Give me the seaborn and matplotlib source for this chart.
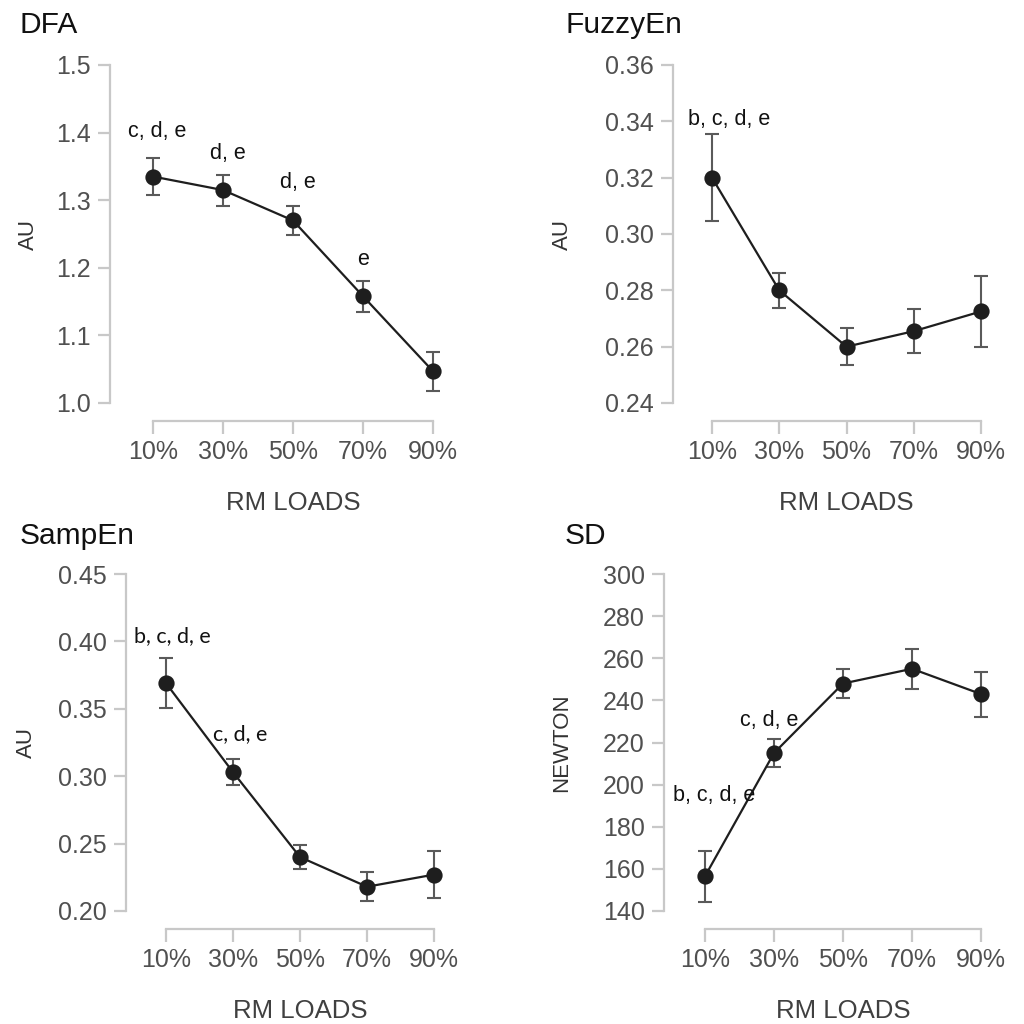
"""
Four-panel line chart of nonlinear / variability measures across RM loads
"""
import numpy as np
import pandas as pd
import matplotlib
matplotlib.use("Agg")
import matplotlib.pyplot as plt
import seaborn as sns

# data
loads = ['10%', '30%', '50%', '70%', '90%']

dfa_mean = [1.335, 1.315, 1.270, 1.158, 1.047]
dfa_se = [0.028, 0.023, 0.021, 0.023, 0.029]

fuzzy_mean = [0.320, 0.280, 0.260, 0.2655, 0.2725]
fuzzy_se = [0.0155, 0.0063, 0.0065, 0.0079, 0.0125]

samp_mean = [0.369, 0.303, 0.240, 0.218, 0.227]
samp_se = [0.0185, 0.0098, 0.0089, 0.0108, 0.0173]

sd_mean = [156.5, 215.0, 248.0, 255.0, 243.0]
sd_se = [12.0, 6.5, 7.0, 9.5, 10.7]

# significance letters: (category position, y, text)
dfa_notes = [(0.06, 1.401, 'c, d, e'), (1.07, 1.369, 'd, e'),
             (2.07, 1.326, 'd, e'), (3.0, 1.213, 'e')]
fuzzy_notes = [(0.25, 0.3407, 'b, c, d, e')]
samp_notes = [(0.09, 0.4043, 'b, c, d, e'), (1.1, 0.3315, 'c, d, e')]
sd_notes = [(0.93, 230.5, 'c, d, e'), (0.13, 195.0, 'b, c, d, e')]

sns.set_style('ticks')
plt.rcParams['font.family'] = ['Liberation Sans', 'DejaVu Sans']

SPINE = '#c8c8c8'
TICKTXT = '#505050'

fig = plt.figure(figsize=(10.24, 10.24), dpi=100)

# panel layout in pixels: spine x, cat0 x, cat4 x, top tick y, bottom tick y, x-axis y
panels = [
    dict(title='DFA', mean=dfa_mean, se=dfa_se, notes=dfa_notes, ylabel='AU',
         yticks=np.round(np.arange(1.0, 1.51, 0.1), 2), fmt='{:.1f}',
         px=(110, 153, 433, 65, 403, 421), title_xy=(20, 33), ylab_x=28, note_font='Liberation Sans'),
    dict(title='FuzzyEn', mean=fuzzy_mean, se=fuzzy_se, notes=fuzzy_notes, ylabel='AU',
         yticks=np.round(np.arange(0.24, 0.361, 0.02), 2), fmt='{:.2f}',
         px=(673, 712, 981, 65, 403, 421), title_xy=(565, 33), ylab_x=562, note_font='Liberation Sans'),
    dict(title='SampEn', mean=samp_mean, se=samp_se, notes=samp_notes, ylabel='AU',
         yticks=np.round(np.arange(0.20, 0.451, 0.05), 2), fmt='{:.2f}',
         px=(126, 166, 434, 574, 911, 929), title_xy=(20, 544), ylab_x=26, note_font='Lato'),
    dict(title='SD', mean=sd_mean, se=sd_se, notes=sd_notes, ylabel='NEWTON',
         yticks=np.arange(140, 301, 20), fmt='{:.0f}',
         px=(664, 705, 981, 574, 911, 929), title_xy=(565, 544), ylab_x=562, note_font='Liberation Sans'),
]

W = H = 1024.0
for p in panels:
    spine_x, c0, c4, ytop, ybot, axis_y = p['px']
    ymin, ymax = p['yticks'][0], p['yticks'][-1]
    per_cat = (c4 - c0) / 4.0
    per_y = (ybot - ytop) / (ymax - ymin)
    right_px = c4 + 0.4 * per_cat
    top_px = ytop - 6

    ax = fig.add_axes([spine_x / W, 1 - axis_y / H,
                       (right_px - spine_x) / W, (axis_y - top_px) / H])

    df = pd.DataFrame({'load': loads, 'value': p['mean']})
    sns.pointplot(data=df, x='load', y='value', color='#1e1e1e', errorbar=None,
                  markers='o', markersize=10.5, linewidth=1.6, ax=ax, zorder=3)
    ax.errorbar(np.arange(len(loads)), p['mean'], yerr=p['se'], fmt='none',
                ecolor='#5a5a5a', elinewidth=1.5, capsize=4.8, capthick=1.5, zorder=1)

    ax.set_xlim((spine_x - c0) / per_cat, 4.4)
    ax.set_ylim(ymin - (axis_y - ybot) / per_y, ymax + 6 / per_y)

    ax.set_yticks(p['yticks'])
    ax.set_yticklabels([p['fmt'].format(v) for v in p['yticks']])
    ax.set_xticks(range(len(loads)))
    ax.set_xticklabels(loads)

    sns.despine(ax=ax)
    for side in ['left', 'bottom']:
        ax.spines[side].set_color(SPINE)
        ax.spines[side].set_linewidth(1.6)
    ax.spines['left'].set_bounds(ymin, ymax)
    ax.spines['bottom'].set_bounds(0, 4)
    ax.tick_params(axis='both', colors=SPINE, labelcolor=TICKTXT, labelsize=18,
                   length=9, width=1.6, pad=5)

    ax.set_xlabel('')
    ax.set_ylabel('')

    # significance letters
    for xn, yn, txt in p['notes']:
        ax.text(xn, yn, txt, ha='center', va='center', fontsize=15.5,
                family=[p['note_font'], 'DejaVu Sans'], color='#111111')

    # panel title, axis labels
    tx, ty = p['title_xy']
    fig.text(tx / W, 1 - ty / H, p['title'], fontsize=21.5, color='#111111',
             ha='left', va='baseline')
    fig.text(p['ylab_x'] / W, 1 - ((ytop + ybot) / 2) / H, p['ylabel'], rotation=90,
             fontsize=16, color='#333333', ha='center', va='center')
    fig.text(((c0 + c4) / 2) / W, 1 - (axis_y + 82) / H, 'RM LOADS', fontsize=18.5,
             color='#404040', ha='center', va='center')

plt.savefig('out.png', dpi=100)
